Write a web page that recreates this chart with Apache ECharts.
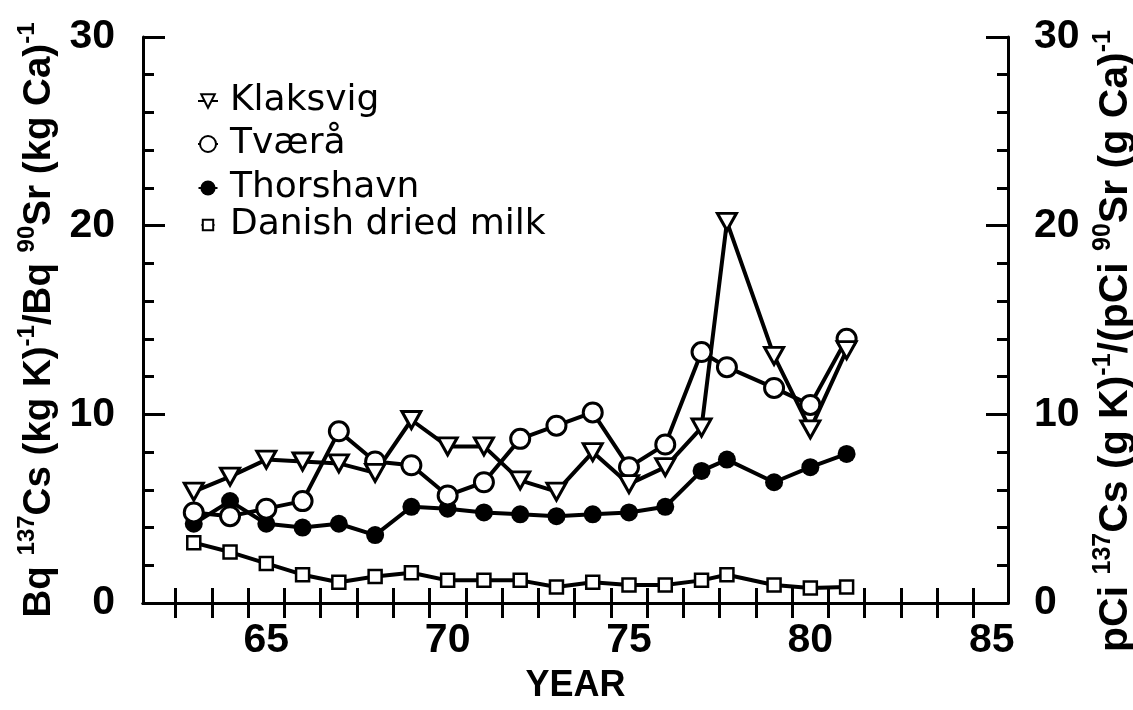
<!DOCTYPE html>
<html>
<head>
<meta charset="utf-8">
<script src="https://cdn.jsdelivr.net/npm/echarts@6.0.0/dist/echarts.min.js"></script>
<style>
  html, body { margin: 0; padding: 0; background: #fff; }
  #chart { width: 1133px; height: 710px; }
</style>
</head>
<body>
<div id="chart"></div>
<script>
// sampling years (the 1978 samples sit a bit before the tick)
var years = [63, 64, 65, 66, 67, 68, 69, 70, 71, 72, 73, 74, 75, 76, 77, 77.7, 79, 80, 81];

// ratios
var klaksvig  = [5.9, 6.7, 7.6, 7.5, 7.4, 6.9, 9.7, 8.3, 8.3, 6.5, 5.9, 8.0, 6.3, 7.2, 9.3, 20.2, 13.1, 9.2, 13.4];
var tvaera    = [4.8, 4.6, 5.0, 5.4, 9.1, 7.5, 7.3, 5.7, 6.4, 8.7, 9.4, 10.1, 7.2, 8.4, 13.3, 12.5, 11.4, 10.5, 14.0];
var thorshavn = [4.2, 5.4, 4.2, 4.0, 4.2, 3.6, 5.1, 5.0, 4.8, 4.7, 4.6, 4.7, 4.8, 5.1, 7.0, 7.6, 6.4, 7.2, 7.9];
var danish    = [3.2, 2.7, 2.1, 1.5, 1.1, 1.4, 1.6, 1.2, 1.2, 1.2, 0.85, 1.1, 0.95, 0.95, 1.2, 1.5, 0.95, 0.8, 0.85];

// axis labels and ticks
var yearLabels = [65, 70, 75, 80, 85];
var yearTicks = [62.5, 63.5, 64.5, 65.5, 66.5, 67.5, 68.5, 69.5, 70.5, 71.5, 72.5, 73.5,
                 74.5, 75.5, 76.5, 77.5, 78.5, 79.5, 80.5, 81.5, 82.5, 83.5, 84.5];

var triangleDown = 'path://M0,0L20,0L10,18Z';

function pairs(ys) {
    var out = [];
    for (var i = 0; i < years.length; i++) {
        out.push([years[i], ys[i]]);
    }
    return out;
}

var chart = echarts.init(document.getElementById('chart'));

var black = '#000';
var boldFont = { color: black, fontFamily: 'Liberation Sans', fontWeight: 'bold', fontSize: 41 };

// rich text styles for the rotated axis titles (superscripts on top)
function titleRich(size, gap) {
    var lh = Math.round(size * 1.25);
    return {
        sup: { fontSize: Math.round(size * 0.62), fontFamily: 'Liberation Sans', fontWeight: 'bold', color: black, verticalAlign: 'top', lineHeight: lh },
        m: { fontSize: size, fontFamily: 'Liberation Sans', fontWeight: 'bold', color: black, lineHeight: lh },
        gap: { width: gap, lineHeight: lh }
    };
}

function legendBox(name, top, w, h) {
    return {
        data: [name],
        left: 202 - w / 2,
        top: top - Math.max(h, 36) / 2,
        itemWidth: w,
        itemHeight: h,
        itemGap: 0,
        selectedMode: false,
        textStyle: { color: black, fontSize: 36, fontFamily: 'DejaVu Sans', padding: [0, 0, 0, 26 - w / 2 - 9] }
    };
}

var option = {
    animation: false,
    backgroundColor: '#fff',
    grid: { left: 143, right: 125, top: 37, bottom: 107, containLabel: false, outerBoundsMode: 'none' },
    legend: [
        legendBox('Klaksvig', 96, 20, 17),
        legendBox('Tværå', 139, 20, 20),
        legendBox('Thorshavn', 183, 19, 19),
        legendBox('Danish dried milk', 220, 13, 13)
    ],
    xAxis: [{
        type: 'value',
        position: 'bottom',
        min: 61.6,
        max: 85.45,
        axisLine: { show: true, lineStyle: { color: black, width: 3 } },
        axisTick: { show: true, inside: true, length: 15, customValues: yearTicks, lineStyle: { color: black, width: 3 } },
        axisLabel: Object.assign({ customValues: yearLabels, margin: 17 }, boldFont),
        splitLine: { show: false },
        name: 'YEAR',
        nameLocation: 'middle',
        nameGap: 65,
        nameTextStyle: { color: black, fontFamily: 'Liberation Sans', fontWeight: 'bold', fontSize: 36 }
    }, {
        type: 'value',
        position: 'top',
        min: 61.6,
        max: 85.45,
        axisLine: { show: true, lineStyle: { color: black, width: 3 } },
        axisTick: { show: true, inside: true, length: 15, customValues: yearTicks, lineStyle: { color: black, width: 3 } },
        axisLabel: { show: false },
        splitLine: { show: false }
    }],
    yAxis: [{
        type: 'value',
        position: 'left',
        min: 0,
        max: 30,
        interval: 10,
        axisLine: { show: true, lineStyle: { color: black, width: 3 } },
        axisTick: { show: true, inside: true, length: 22, lineStyle: { color: black, width: 3 } },
        minorTick: { show: true, splitNumber: 5, length: 11, lineStyle: { color: black, width: 3 } },
        axisLabel: Object.assign({ margin: 28 }, boldFont),
        splitLine: { show: false },
        name: '{m|Bq }{sup|137}{m|Cs (kg K)}{sup|-1}{m|/Bq }{sup|90}{m|Sr (kg Ca)}{sup|-1}{gap|}',
        nameLocation: 'middle',
        nameRotate: 90,
        nameGap: 80,
        nameTextStyle: { rich: titleRich(38.5, 0) }
    }, {
        type: 'value',
        position: 'right',
        min: 0,
        max: 30,
        interval: 10,
        axisLine: { show: true, lineStyle: { color: black, width: 3 } },
        axisTick: { show: true, inside: true, length: 22, lineStyle: { color: black, width: 3 } },
        minorTick: { show: true, splitNumber: 5, length: 11, lineStyle: { color: black, width: 3 } },
        axisLabel: Object.assign({ margin: 26 }, boldFont),
        splitLine: { show: false },
        name: '{m|pCi }{sup|137}{m|Cs (g K)}{sup|-1}{m|/(pCi }{sup|90}{m|Sr (g Ca)}{sup|-1}{gap|}',
        nameLocation: 'middle',
        nameRotate: 90,
        nameGap: 80,
        nameTextStyle: { rich: titleRich(41, 42) }
    }],
    series: [{
        name: 'Danish dried milk',
        type: 'line',
        data: pairs(danish),
        symbol: 'rect',
        symbolSize: 13,
        showAllSymbol: true,
        lineStyle: { color: black, width: 4 },
        itemStyle: { color: '#fff', borderColor: black, borderWidth: 2.5 }
    }, {
        name: 'Thorshavn',
        type: 'line',
        data: pairs(thorshavn),
        symbol: 'circle',
        symbolSize: 18,
        lineStyle: { color: black, width: 4 },
        itemStyle: { color: black, borderColor: black, borderWidth: 0 }
    }, {
        name: 'Tværå',
        type: 'line',
        data: pairs(tvaera),
        symbol: 'circle',
        symbolSize: 19,
        lineStyle: { color: black, width: 4 },
        itemStyle: { color: '#fff', borderColor: black, borderWidth: 3 }
    }, {
        name: 'Klaksvig',
        type: 'line',
        data: pairs(klaksvig),
        symbol: triangleDown,
        symbolSize: [19, 17],
        lineStyle: { color: black, width: 4 },
        itemStyle: { color: '#fff', borderColor: black, borderWidth: 3 }
    }]
};

chart.setOption(option);
</script>
</body>
</html>
